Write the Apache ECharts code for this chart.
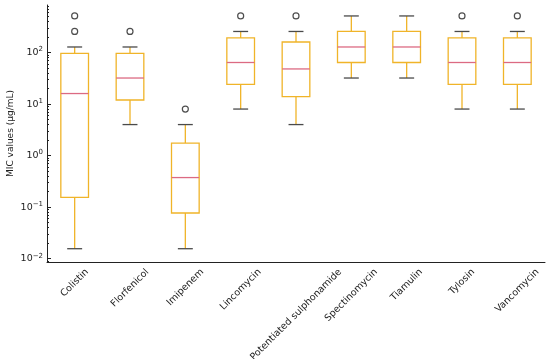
<!DOCTYPE html>
<html>
<head>
<meta charset="utf-8">
<script src="https://cdn.jsdelivr.net/npm/echarts@6/dist/echarts.min.js"></script>
<style>html,body{margin:0;padding:0;background:#fff}#c{width:550px;height:359px}</style>
</head>
<body>
<div id="c"></div>
<script>
var categories = ['Colistin','Florfenicol','Imipenem','Lincomycin','Potentiated sulphonamide','Spectinomycin','Tiamulin','Tylosin','Vancomycin'];
var whiskerLow  = [0.015625, 4, 0.015625, 8, 4, 32, 32, 8, 8];
var q1          = [0.155, 12, 0.077, 24, 14, 64, 64, 24, 24];
var median      = [16, 32, 0.375, 64, 48, 128, 128, 64, 64];
var q3          = [96, 96, 1.75, 192, 160, 256, 256, 192, 192];
var whiskerHigh = [128, 128, 4, 256, 256, 512, 512, 256, 256];
var outliers    = [[0, 512], [0, 256], [1, 256], [2, 8], [3, 512], [4, 512], [7, 512], [8, 512]];
var majorTicks  = [0.01, 0.1, 1, 10, 100];
var minorTicks = [];
for (var e = -3; e <= 2; e++) { for (var m = 2; m <= 9; m++) { var v = m * Math.pow(10, e); if (v > 0.00863 && v < 835) minorTicks.push(v); } }

var boxData = categories.map(function (c, i) { return [i, whiskerLow[i], q1[i], median[i], q3[i], whiskerHigh[i]]; });

var BOX = '#f0b429', MED = '#dc6a82', CAP = '#4a4a4a';
var FONT = 'DejaVu Sans';
var FS = 9.5;

// centre-aligned 45° labels (matplotlib style): pad each label so its rotated box hangs below the tick
var ctx = document.createElement('canvas').getContext('2d');
ctx.font = FS + 'px "' + FONT + '"';
var rich = {};
categories.forEach(function (c, i) {
  var L = ctx.measureText(c).width, h = 10, gap = 5;
  var p = (L + h) / 2 + gap / 0.7071;
  rich['c' + i] = { fontFamily: FONT, fontSize: FS, color: '#222', padding: [p, p, 0, 0] };
});

function renderBox(params, api) {
  var i = api.value(0);
  var band = api.size([1, 0])[0];
  var bw = band * 0.5, cw = band * 0.27;
  var pLo = api.coord([i, api.value(1)]);
  var pQ1 = api.coord([i, api.value(2)]);
  var pMd = api.coord([i, api.value(3)]);
  var pQ3 = api.coord([i, api.value(4)]);
  var pHi = api.coord([i, api.value(5)]);
  var x = pQ1[0];
  var lw = 1.3;
  return {
    type: 'group',
    children: [
      { type: 'line', shape: { x1: x, y1: pQ1[1], x2: x, y2: pLo[1] }, style: { stroke: BOX, lineWidth: lw } },
      { type: 'line', shape: { x1: x, y1: pQ3[1], x2: x, y2: pHi[1] }, style: { stroke: BOX, lineWidth: lw } },
      { type: 'line', shape: { x1: x - cw / 2, y1: pLo[1], x2: x + cw / 2, y2: pLo[1] }, style: { stroke: CAP, lineWidth: lw } },
      { type: 'line', shape: { x1: x - cw / 2, y1: pHi[1], x2: x + cw / 2, y2: pHi[1] }, style: { stroke: CAP, lineWidth: lw } },
      { type: 'rect', shape: { x: x - bw / 2, y: pQ3[1], width: bw, height: pQ1[1] - pQ3[1] }, style: { stroke: BOX, fill: 'none', lineWidth: lw } },
      { type: 'line', shape: { x1: x - bw / 2, y1: pMd[1], x2: x + bw / 2, y2: pMd[1] }, style: { stroke: MED, lineWidth: lw } }
    ]
  };
}

var chart = echarts.init(document.getElementById('c'), null, { renderer: 'canvas' });
chart.setOption({
  animation: false,
  backgroundColor: '#fff',
  grid: { left: 47, right: 5, top: 5, bottom: 97, containLabel: false, outerBoundsMode: 'none' },
  xAxis: {
    type: 'category',
    data: categories,
    boundaryGap: true,
    axisLine: { lineStyle: { color: '#222', width: 1 } },
    axisTick: { alignWithLabel: true, inside: true, length: 4, lineStyle: { color: '#222' } },
    axisLabel: {
      rotate: 45, interval: 0, margin: 0, align: 'center', verticalAlign: 'middle',
      hideOverlap: false,
      formatter: function (v) { return '{c' + categories.indexOf(v) + '|' + v + '}'; },
      rich: rich
    },
    splitLine: { show: false }
  },
  yAxis: [{
    type: 'log', logBase: 10, min: 0.00863, max: 835,
    name: 'MIC values (μg/mL)', nameLocation: 'middle', nameGap: 32, nameRotate: 90, nameMoveOverlap: false,
    nameTextStyle: { color: '#222', fontFamily: FONT, fontSize: 9 },
    axisLine: { show: true, lineStyle: { color: '#222', width: 1 } },
    axisTick: { show: true, inside: true, length: 4, customValues: majorTicks, lineStyle: { color: '#222' } },
    axisLabel: {
      customValues: majorTicks, color: '#222', fontFamily: FONT, fontSize: FS, margin: 4,
      formatter: function (v) {
        var ex = Math.round(Math.log10(v));
        return '{b|10}{s|' + String(ex).replace('-', '−') + '}';
      },
      rich: {
        b: { fontFamily: FONT, fontSize: FS, color: '#222' },
        s: { fontFamily: FONT, fontSize: 7, color: '#222', verticalAlign: 'top', padding: [0, 0, 6, 0] }
      }
    },
    splitLine: { show: false }
  }, {
    type: 'log', logBase: 10, min: 0.00863, max: 835, position: 'left', offset: 0,
    axisLine: { show: false },
    axisTick: { show: true, inside: true, length: 2, customValues: minorTicks, lineStyle: { color: '#222' } },
    axisLabel: { show: false },
    splitLine: { show: false }
  }],
  series: [{
    type: 'custom',
    renderItem: renderBox,
    encode: { x: 0, y: [1, 2, 3, 4, 5] },
    data: boxData,
    z: 2
  }, {
    type: 'scatter',
    data: outliers,
    symbol: 'circle',
    symbolSize: 6,
    itemStyle: { color: 'rgba(0,0,0,0)', borderColor: '#222', borderWidth: 1.2 },
    z: 3
  }]
});
</script>
</body>
</html>
